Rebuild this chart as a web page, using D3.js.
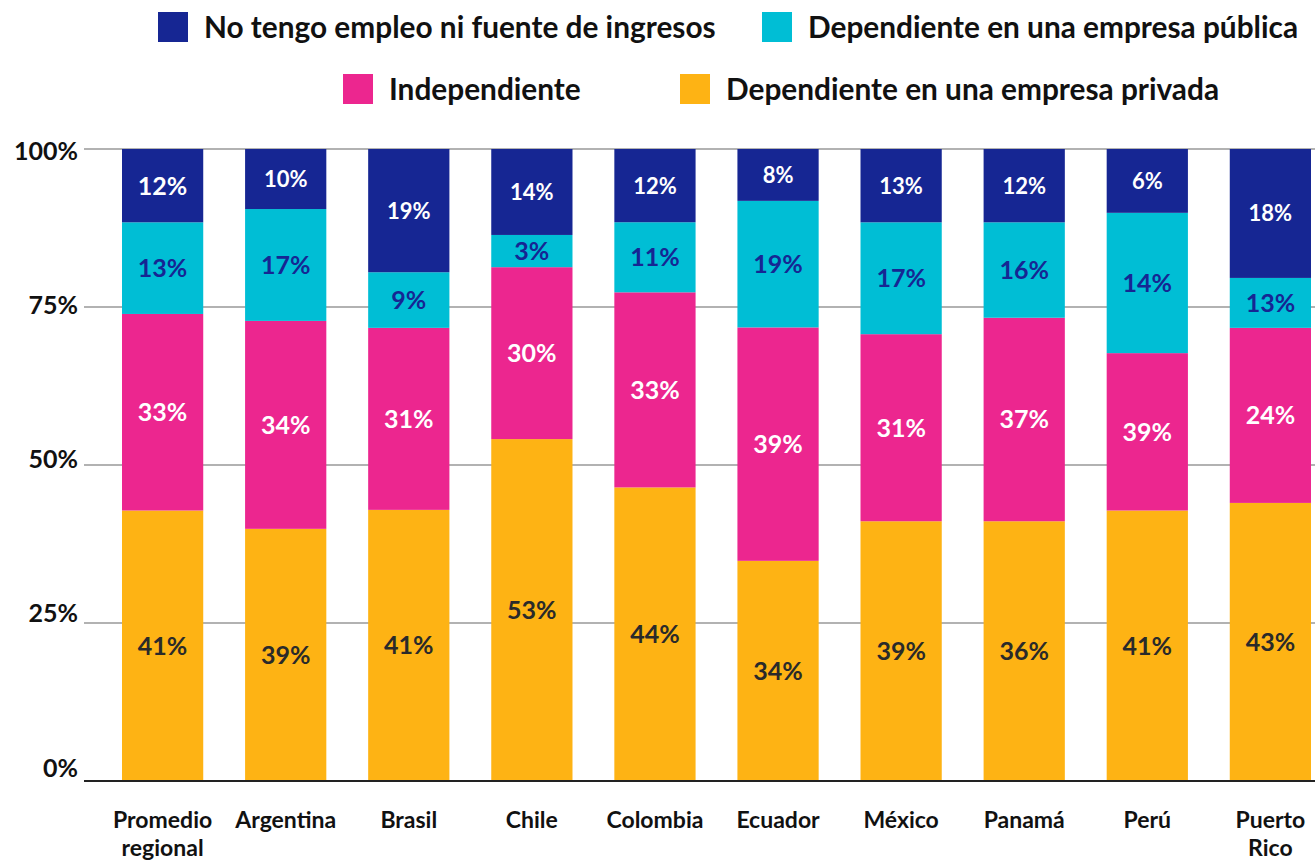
<!doctype html>
<html>
  <head>
    <meta charset="utf-8">
    <title>Situación laboral por país</title>
    <script src="https://cdnjs.cloudflare.com/ajax/libs/d3/7.8.5/d3.min.js"></script>
    <style>
      body { margin: 0; background: #fff; font-family: Lato, "Noto Sans", sans-serif; }
      text { font-family: Lato, "Noto Sans", sans-serif; }
    </style>
  </head>
  <body>
    <div id="chart"></div>
    <script>

    // data (segment heights in %, bottom to top)
    const countries = ["Promedio regional", "Argentina", "Brasil", "Chile", "Colombia", "Ecuador", "México", "Panamá", "Perú", "Puerto Rico"];
    const privada       = [42.8, 39.9, 42.9, 54.1, 46.5, 34.8, 41.1, 41.1, 42.8, 44.0];
    const independiente = [31.1, 32.9, 28.8, 27.2, 30.9, 36.9, 29.6, 32.2, 24.9, 27.7];
    const publica       = [14.5, 17.7, 8.8, 5.1, 11.1, 20.0, 17.7, 15.1, 22.2, 7.9];
    const sinEmpleo     = [11.6, 9.5, 19.5, 13.6, 11.6, 8.2, 11.6, 11.6, 10.1, 20.4];

    // the printed labels
    const lblPrivada       = [41, 39, 41, 53, 44, 34, 39, 36, 41, 43];
    const lblIndependiente = [33, 34, 31, 30, 33, 39, 31, 37, 39, 24];
    const lblPublica       = [13, 17, 9, 3, 11, 19, 17, 16, 14, 13];
    const lblSinEmpleo     = [12, 10, 19, 14, 12, 8, 13, 12, 6, 18];

    const yTicks = [0, 0.25, 0.5, 0.75, 1];

    const seriesKeys = ["privada", "independiente", "publica", "sinEmpleo"];
    const seriesNames = {
      sinEmpleo: "No tengo empleo ni fuente de ingresos",
      publica: "Dependiente en una empresa pública",
      independiente: "Independiente",
      privada: "Dependiente en una empresa privada"
    };
    const colors = { privada: "#feb314", independiente: "#ec268f", publica: "#00bed5", sinEmpleo: "#162693" };
    const labelColors = { privada: "#2a2a2a", independiente: "#ffffff", publica: "#162693", sinEmpleo: "#ffffff" };
    const labels = { privada: lblPrivada, independiente: lblIndependiente, publica: lblPublica, sinEmpleo: lblSinEmpleo };

    const table = countries.map((c, i) => ({
      country: c,
      privada: privada[i],
      independiente: independiente[i],
      publica: publica[i],
      sinEmpleo: sinEmpleo[i]
    }));

    const width = 1315, height = 860;

    const svg = d3.select("#chart")
      .append("svg")
      .attr("width", width)
      .attr("height", height);

    const x = d3.scaleBand()
      .domain(countries)
      .range([122, 1311])
      .paddingInner(0.34)
      .paddingOuter(0);

    const y = d3.scaleLinear()
      .domain([0, 1])
      .range([781, 149]);

    // tick labels sit a little above their gridlines in the original
    const yLab = d3.scaleLinear()
      .domain([0, 1])
      .range([768, 151]);

    const stacked = d3.stack()
      .keys(seriesKeys)
      .offset(d3.stackOffsetExpand)(table);

    // gridlines
    svg.append("g")
      .selectAll("line")
      .data(yTicks.filter(d => d > 0))
      .join("line")
      .attr("x1", 84)
      .attr("x2", width)
      .attr("y1", d => y(d))
      .attr("y2", d => y(d))
      .attr("stroke", "#999")
      .attr("stroke-width", 1.5);

    // y labels
    const yAxis = svg.append("g")
      .attr("transform", "translate(84,0)")
      .call(d3.axisLeft(yLab).tickValues(yTicks).tickSize(0).tickPadding(6).tickFormat(d3.format(".0%")));
    yAxis.select(".domain").remove();
    yAxis.selectAll("text")
      .attr("font-size", 25)
      .attr("font-weight", 700)
      .attr("fill", "#111")
      .attr("font-family", "Lato, sans-serif");

    // bars
    const layers = svg.append("g")
      .selectAll("g")
      .data(stacked)
      .join("g")
      .attr("fill", d => colors[d.key]);

    layers.selectAll("rect")
      .data(d => d)
      .join("rect")
      .attr("x", d => x(d.data.country))
      .attr("y", d => y(d[1]))
      .attr("width", x.bandwidth())
      .attr("height", d => y(d[0]) - y(d[1]));

    // value labels
    layers.each(function(layer) {
      d3.select(this).selectAll("text")
        .data(layer)
        .join("text")
        .attr("x", d => x(d.data.country) + x.bandwidth() / 2)
        .attr("y", d => (y(d[0]) + y(d[1])) / 2)
        .attr("dy", "0.36em")
        .attr("text-anchor", "middle")
        .attr("font-weight", 700)
        .attr("font-size", (d, i) => (layer.key == "sinEmpleo" && i > 0) ? 22 : 25)
        .attr("fill", labelColors[layer.key])
        .text((d, i) => labels[layer.key][i] + "%");
    });

    // baseline
    svg.append("line")
      .attr("x1", 84)
      .attr("x2", width)
      .attr("y1", y(0))
      .attr("y2", y(0))
      .attr("stroke", "#222")
      .attr("stroke-width", 2);

    // x labels (two lines where needed)
    const xl = svg.append("g")
      .selectAll("text")
      .data(countries)
      .join("text")
      .attr("x", d => x(d) + x.bandwidth() / 2)
      .attr("y", 828)
      .attr("text-anchor", "middle")
      .attr("font-size", 23)
      .attr("font-weight", 700)
      .attr("fill", "#111");

    xl.each(function(d) {
      const words = d.split(" ");
      const el = d3.select(this);
      const cx = el.attr("x");
      words.forEach((w, i) => {
        el.append("tspan")
          .attr("x", cx)
          .attr("dy", i == 0 ? 0 : 28)
          .text(w);
      });
    });

    // legend
    const legendItems = [
      { key: "sinEmpleo", x: 158, y: 12 },
      { key: "publica", x: 762, y: 12 },
      { key: "independiente", x: 343, y: 74 },
      { key: "privada", x: 680, y: 74 }
    ];

    const legend = svg.append("g")
      .selectAll("g")
      .data(legendItems)
      .join("g")
      .attr("transform", d => `translate(${d.x},${d.y})`);

    legend.append("rect")
      .attr("width", 30)
      .attr("height", 30)
      .attr("fill", d => colors[d.key]);

    legend.append("text")
      .attr("x", 46)
      .attr("y", 15)
      .attr("dy", "0.36em")
      .attr("font-size", 29.8)
      .attr("font-weight", 700)
      .attr("fill", "#111")
      .text(d => seriesNames[d.key]);

    </script>
  </body>
</html>
